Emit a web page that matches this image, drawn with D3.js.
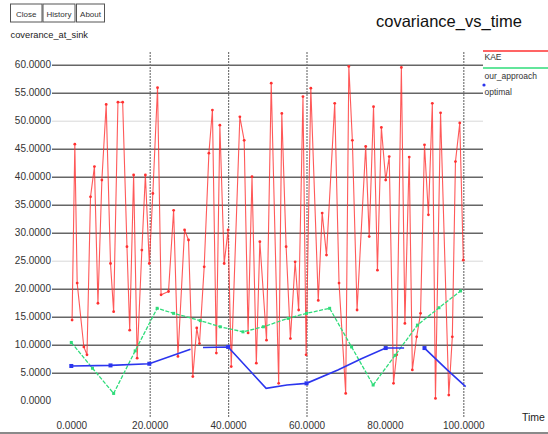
<!DOCTYPE html>
<html>
<head>
<meta charset="utf-8">
<script src="https://cdn.jsdelivr.net/npm/d3@7"></script>
<style>
  html, body { margin: 0; padding: 0; background: #ffffff; }
  svg { display: block; font-family: "Liberation Sans", Arial, sans-serif; }
</style>
</head>
<body>
<svg id="chart" width="548" height="434"></svg>
<script>
// ---------------- data ----------------
const title = "covariance_vs_time";
const yLabel = "coverance_at_sink";
const xLabel = "Time";
const buttons = ["Close", "History", "About"];
const seriesNames = ["KAE", "our_approach", "optimal"];
const seriesColors = ["#ff3030", "#2fdc7a", "#2b35ee"];

const xTicks = [0, 20, 40, 60, 80, 100];
const xGrid = [20, 40, 60, 100];
const yTicks = [0, 5, 10, 15, 20, 25, 30, 35, 40, 45, 50, 55, 60];
const yLightTicks = [50, 25];

const kaeTime = [0.2, 0.9, 1.5, 3.2, 4.0, 4.9, 5.9, 6.8, 7.8, 8.9, 10.0, 10.8, 11.9, 13.1, 14.2, 14.9, 15.9, 16.8, 18.0, 18.9,
  19.9, 20.8, 22.0, 22.9, 24.8, 26.1, 27.2, 28.9, 29.9, 31.0, 32.0, 32.7, 33.9, 35.1, 36.0, 37.0, 37.9, 39.0, 40.0, 40.8,
  43.0, 44.1, 45.1, 46.1, 47.2, 48.1, 49.8, 51.0, 52.9, 53.7, 54.8, 55.9, 57.1, 58.0, 59.1, 59.9, 61.1, 63.0, 64.0, 65.1,
  67.2, 68.3, 70.0, 70.8, 71.7, 72.9, 75.1, 76.0, 77.1, 78.1, 79.1, 80.2, 81.1, 82.2, 83.0, 84.2, 85.1, 86.2, 87.0, 88.1,
  89.1, 90.1, 91.1, 92.1, 92.9, 94.2, 96.3, 97.2, 98.0, 99.1, 100.0];
const kaeValues = [14.4, 45.8, 21.0, 9.6, 8.2, 36.4, 41.8, 17.4, 39.4, 52.9, 24.5, 15.9, 53.3, 53.3, 27.5, 12.6, 40.3, 7.6, 26.9, 40.3,
  24.5, 37.0, 55.9, 18.9, 19.5, 34.0, 7.9, 30.5, 28.7, 4.3, 13.0, 10.2, 23.9, 44.2, 51.9, 8.5, 49.2, 24.5, 30.5, 6.1,
  50.7, 46.5, 12.1, 40.0, 6.7, 28.4, 10.8, 56.7, 3.1, 51.3, 27.5, 11.1, 24.8, 16.2, 54.3, 8.2, 55.8, 17.9, 33.5, 26.0,
  53.1, 21.0, 1.3, 59.7, 46.5, 16.2, 45.4, 29.3, 52.5, 23.3, 48.8, 39.4, 43.6, 3.1, 8.2, 59.5, 13.8, 43.5, 5.5, 11.4,
  15.6, 45.7, 33.2, 53.1, 0.4, 51.4, 1.0, 11.4, 42.7, 49.6, 25.1];

const oursTime = [0, 5.4, 10.8, 16.3, 21.9, 26.1, 32.9, 38.0, 43.8, 49.0, 55.3, 60.0, 65.9, 71.5, 77.0, 82.6, 88.3, 93.8, 99.3];
const oursValues = [10.4, 5.8, 1.3, 8.9, 16.5, 15.6, 14.3, 13.2, 12.3, 13.2, 14.7, 15.6, 16.5, 9.6, 2.8, 8.1, 13.5, 16.6, 19.6];

const optTime = [0, 10.0, 19.9, 30.4, 32.0, 33.6, 40.0, 46.8, 49.7, 55.0, 60.0, 68.0, 74.0, 80.2, 84.9, 87.5, 90.1, 95.9, 100.6];
const optValues = [6.2, 6.3, 6.6, 9.2, null, 9.5, 9.6, 4.4, 2.2, 2.8, 3.1, 5.5, 7.5, 9.4, 9.4, null, 9.4, 5.5, 2.5];
const optMarkers = [0, 10.0, 19.9, 40.0, 60.0, 80.2, 90.1];

// ---------------- drawing ----------------
const svg = d3.select("#chart");
const x = d3.scaleLinear().domain([0, 100]).range([71.3, 463.3]);
const y = d3.scaleLinear().domain([0, 60]).range([400.7, 64.7]);
const gridLeft = 52, gridRight = 483, gridTop = 52, gridBottom = 417;

// buttons
const btnX = [10.5, 43, 76.5], btnW = [31.5, 32, 28];
const bg = svg.append("g");
buttons.forEach((b, i) => {
  bg.append("rect").attr("x", btnX[i]).attr("y", 4).attr("width", btnW[i]).attr("height", 18)
    .attr("fill", "#fff").attr("stroke", "#555").attr("stroke-width", 1);
  bg.append("text").attr("x", btnX[i] + btnW[i] / 2).attr("y", 16.5).attr("text-anchor", "middle")
    .attr("font-size", 8).attr("fill", "#333").text(b);
});

// title & y label
svg.append("text").attr("x", 376).attr("y", 27).attr("font-size", 16.5).attr("fill", "#111").text(title);
svg.append("text").attr("x", 10.5).attr("y", 38).attr("font-size", 9.3).attr("fill", "#222").text(yLabel);

// y axis with gridlines
const yAxis = svg.append("g").attr("transform", `translate(${gridLeft},0)`)
  .call(d3.axisLeft(y).tickValues(yTicks).tickFormat(d3.format(".4f"))
    .tickSize(-(gridRight - gridLeft)).tickPadding(1));
yAxis.select(".domain").remove();
yAxis.selectAll(".tick line")
  .attr("stroke", d => d === 0 ? "none" : (yLightTicks.includes(d) ? "#d8d8d8" : "#666"))
  .attr("stroke-width", d => yLightTicks.includes(d) ? 1 : 1.4);
yAxis.selectAll(".tick text").attr("font-size", 10).attr("fill", "#333")
  .attr("font-family", "'Liberation Sans', Arial, sans-serif");

// x axis with gridlines
const xAxis = svg.append("g").attr("transform", `translate(0,${gridBottom})`)
  .call(d3.axisBottom(x).tickValues(xTicks).tickFormat(d3.format(".4f"))
    .tickSizeInner(-(gridBottom - gridTop)).tickSizeOuter(0).tickPadding(5));
xAxis.select(".domain").remove();
xAxis.selectAll(".tick line")
  .attr("stroke", d => xGrid.includes(d) ? "#777" : "none")
  .attr("stroke-width", 1.2).attr("stroke-dasharray", "2,1");
xAxis.selectAll(".tick text").attr("font-size", 10).attr("fill", "#333")
  .attr("font-family", "'Liberation Sans', Arial, sans-serif");

svg.append("text").attr("x", 522).attr("y", 421).attr("font-size", 10.5).attr("fill", "#222").text(xLabel);

// series
const kae = kaeTime.map((t, i) => ({t, v: kaeValues[i]}));
const ours = oursTime.map((t, i) => ({t, v: oursValues[i]}));
const opt = optTime.map((t, i) => ({t, v: optValues[i]}));

const line = d3.line().defined(d => d.v !== null).x(d => x(d.t)).y(d => y(d.v));

svg.append("path").datum(kae).attr("d", line).attr("fill", "none")
  .attr("stroke", seriesColors[0]).attr("stroke-width", 1.1).attr("stroke-opacity", 0.8);
svg.append("g").selectAll("circle").data(kae).join("circle")
  .attr("cx", d => x(d.t)).attr("cy", d => y(d.v)).attr("r", 1.4).attr("fill", seriesColors[0]);

svg.append("path").datum(ours).attr("d", line).attr("fill", "none")
  .attr("stroke", seriesColors[1]).attr("stroke-width", 1.3).attr("stroke-dasharray", "4,1.5");
svg.append("g").selectAll("rect").data(ours).join("rect")
  .attr("x", d => x(d.t) - 1.5).attr("y", d => y(d.v) - 1.5).attr("width", 3).attr("height", 3)
  .attr("fill", seriesColors[1]);

svg.append("path").datum(opt).attr("d", line).attr("fill", "none")
  .attr("stroke", seriesColors[2]).attr("stroke-width", 1.6);
svg.append("g").selectAll("rect").data(opt.filter(d => d.v !== null && optMarkers.includes(d.t))).join("rect")
  .attr("x", d => x(d.t) - 2).attr("y", d => y(d.v) - 2).attr("width", 4).attr("height", 4)
  .attr("fill", seriesColors[2]);

// legend
const lg = svg.append("g");
lg.append("line").attr("x1", 483).attr("x2", 548).attr("y1", 51).attr("y2", 51)
  .attr("stroke", seriesColors[0]).attr("stroke-width", 1.3);
lg.append("line").attr("x1", 483).attr("x2", 548).attr("y1", 68).attr("y2", 68)
  .attr("stroke", seriesColors[1]).attr("stroke-width", 1.3);
lg.append("circle").attr("cx", 484).attr("cy", 85).attr("r", 1.6).attr("fill", seriesColors[2]);
const legY = [59.5, 79, 94.5];
seriesNames.forEach((n, i) => {
  lg.append("text").attr("x", 484.5).attr("y", legY[i]).attr("font-size", 8.5).attr("fill", "#333").text(n);
});

// bottom border
svg.append("rect").attr("x", 0).attr("y", 432).attr("width", 548).attr("height", 2).attr("fill", "#8a8a8a");
</script>
</body>
</html>
